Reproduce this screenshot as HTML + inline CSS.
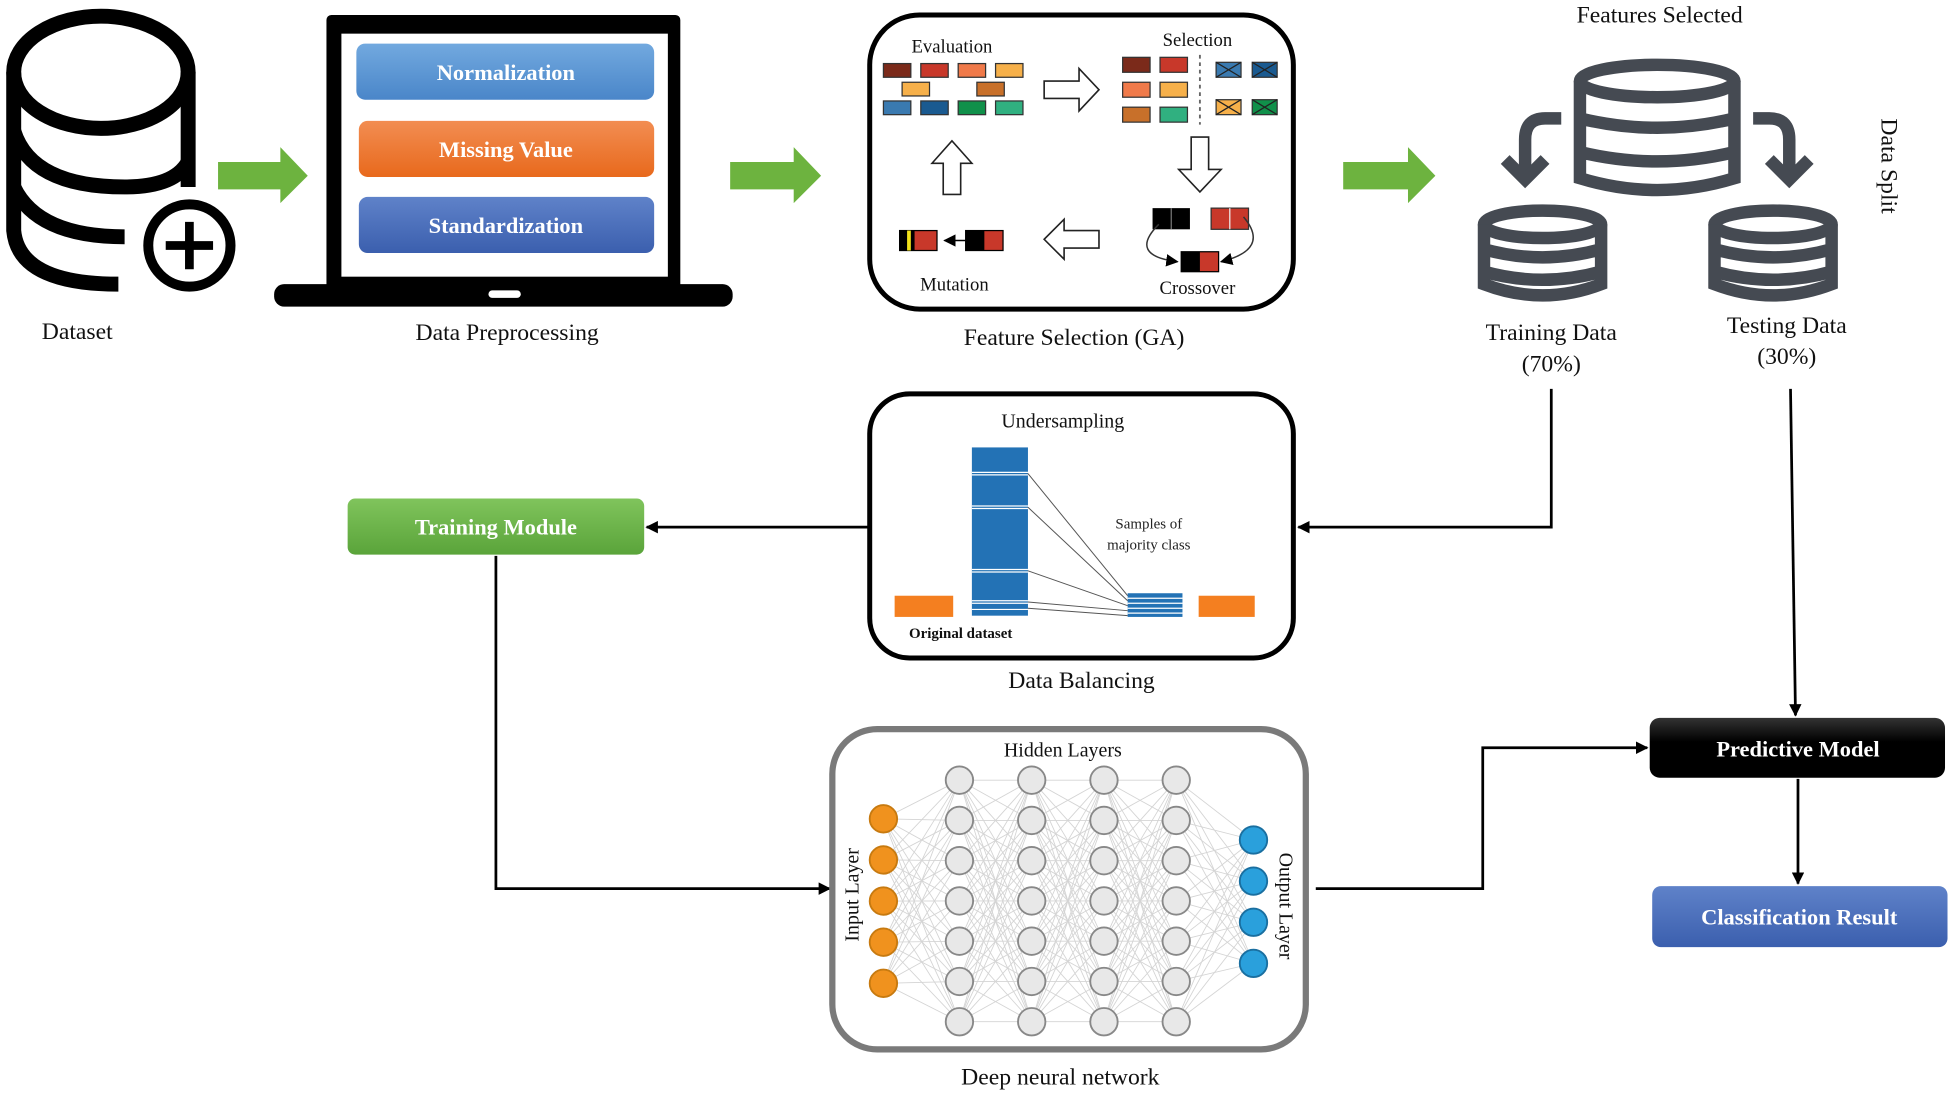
<!DOCTYPE html>
<html><head><meta charset="utf-8"><style>
html,body{margin:0;padding:0;background:#fff;}
svg{display:block;}
text{font-family:"Liberation Serif",serif;}
.lbl{font-size:19px;fill:#111;}
.bt{font-size:18px;font-weight:bold;fill:#fff;}
</style></head><body>
<svg id="s" width="1950" height="1093" viewBox="0 0 1565 877" preserveAspectRatio="none" xmlns="http://www.w3.org/2000/svg">
<defs>
<linearGradient id="gb" x1="0" y1="0" x2="0" y2="1"><stop offset="0" stop-color="#72a9df"/><stop offset="1" stop-color="#4a86c9"/></linearGradient>
<linearGradient id="go" x1="0" y1="0" x2="0" y2="1"><stop offset="0" stop-color="#f28d52"/><stop offset="1" stop-color="#e8691c"/></linearGradient>
<linearGradient id="gs" x1="0" y1="0" x2="0" y2="1"><stop offset="0" stop-color="#5f82c9"/><stop offset="1" stop-color="#3b5fae"/></linearGradient>
<linearGradient id="gg" x1="0" y1="0" x2="0" y2="1"><stop offset="0" stop-color="#80c45c"/><stop offset="1" stop-color="#5aa43a"/></linearGradient>
<linearGradient id="gk" x1="0" y1="0" x2="0" y2="1"><stop offset="0" stop-color="#333"/><stop offset="0.4" stop-color="#000"/></linearGradient>
<marker id="ar" markerWidth="10" markerHeight="10" refX="9" refY="5" orient="auto" markerUnits="userSpaceOnUse"><path d="M0,0 L10,5 L0,10 z" fill="#000"/></marker>
</defs>

<!-- Dataset icon -->
<g fill="none" stroke="#000" stroke-width="12">
<ellipse cx="81" cy="58" rx="70" ry="45"/>
<path d="M11,58 V185 Q15,228 95,228"/>
<path d="M151,58 V150"/>
<path d="M11,105 Q25,150 100,150 Q140,150 151,130"/>
<path d="M11,150 Q30,190 100,190"/>
</g>
<circle cx="152" cy="197" r="33" fill="#fff" stroke="#000" stroke-width="8"/>
<path d="M152,178 V216 M133,197 H171" stroke="#000" stroke-width="7"/>
<text x="62" y="272" class="lbl" text-anchor="middle">Dataset</text>

<!-- green arrows -->
<g fill="#6db33f">
<path d="M175,130 H225 V118 L247,141 L225,163 V152 H175 z"/>
<path d="M586,130 H637 V118 L659,141 L637,163 V152 H586 z"/>
<path d="M1078,130 H1130 V118 L1152,141 L1130,163 V152 H1078 z"/>
</g>

<!-- laptop -->
<rect x="262" y="12" width="284" height="220" rx="4" fill="#000"/>
<rect x="274" y="27" width="262" height="195" fill="#fff"/>
<rect x="220" y="228" width="368" height="18" rx="8" fill="#000"/>
<rect x="392" y="233" width="26" height="6" rx="3" fill="#fff"/>
<rect x="286" y="35" width="239" height="45" rx="7" fill="url(#gb)"/>
<rect x="288" y="97" width="237" height="45" rx="7" fill="url(#go)"/>
<rect x="288" y="158" width="237" height="45" rx="7" fill="url(#gs)"/>
<text x="406" y="64" class="bt" text-anchor="middle">Normalization</text>
<text x="406" y="126" class="bt" text-anchor="middle">Missing Value</text>
<text x="406" y="187" class="bt" text-anchor="middle">Standardization</text>
<text x="407" y="273" class="lbl" text-anchor="middle">Data Preprocessing</text>

<!-- Feature selection box -->
<rect x="698" y="12" width="340" height="236" rx="40" fill="#fff" stroke="#000" stroke-width="4"/>
<text x="764" y="42" font-size="15" text-anchor="middle" fill="#111">Evaluation</text>
<text x="961" y="37" font-size="15" text-anchor="middle" fill="#111">Selection</text>
<text x="766" y="233" font-size="15" text-anchor="middle" fill="#111">Mutation</text>
<text x="961" y="236" font-size="15" text-anchor="middle" fill="#111">Crossover</text>
<g stroke="#333" stroke-width="1">
<rect x="709" y="51" width="22" height="11" fill="#7b2a1a"/><rect x="739" y="51" width="22" height="11" fill="#c8382a"/><rect x="769" y="51" width="22" height="11" fill="#f07a4a"/><rect x="799" y="51" width="22" height="11" fill="#f6b04a"/>
<rect x="724" y="66" width="22" height="11" fill="#f6b04a"/><rect x="784" y="66" width="22" height="11" fill="#c8702a"/>
<rect x="709" y="81" width="22" height="11" fill="#3a7ab0"/><rect x="739" y="81" width="22" height="11" fill="#1a5a90"/><rect x="769" y="81" width="22" height="11" fill="#10904a"/><rect x="799" y="81" width="22" height="11" fill="#30b080"/>
<rect x="901" y="46" width="22" height="12" fill="#7b2a1a"/><rect x="931" y="46" width="22" height="12" fill="#c8382a"/>
<rect x="901" y="66" width="22" height="12" fill="#f07a4a"/><rect x="931" y="66" width="22" height="12" fill="#f6b04a"/>
<rect x="901" y="86" width="22" height="12" fill="#c8702a"/><rect x="931" y="86" width="22" height="12" fill="#30b080"/>
<rect x="976" y="50" width="20" height="12" fill="#3a7ab0"/><rect x="1005" y="50" width="20" height="12" fill="#1a5a90"/>
<rect x="976" y="80" width="20" height="12" fill="#f6b04a"/><rect x="1005" y="80" width="20" height="12" fill="#10904a"/>
<path d="M976,50 L996,62 M996,50 L976,62 M1005,50 L1025,62 M1025,50 L1005,62 M976,80 L996,92 M996,80 L976,92 M1005,80 L1025,92 M1025,80 L1005,92" stroke="#222"/>
</g>
<path d="M963,44 V100" stroke="#666" stroke-width="1.5" stroke-dasharray="3,3"/>
<g fill="#fff" stroke="#222" stroke-width="1.3">
<path d="M838,65 H866 V55 L882,72 L866,89 V79 H838 z"/>
<path d="M956,110 H970 V136 H980 L963,154 L946,136 H956 z"/>
<path d="M757,156 H771 V131 H780 L764,113 L748,131 H757 z"/>
<path d="M882,185 H854 V176 L838,192 L854,208 V199 H882 z"/>
</g>
<rect x="925" y="167" width="30" height="17" fill="#000"/><line x1="940" y1="167" x2="940" y2="184" stroke="#777"/>
<rect x="972" y="167" width="30" height="17" fill="#c8382a" stroke="#333"/><line x1="987" y1="167" x2="987" y2="184" stroke="#eee"/>
<rect x="948" y="202" width="30" height="16" fill="#c8382a" stroke="#000"/><rect x="948" y="202" width="15" height="16" fill="#000"/>
<path d="M930,180 Q905,205 945,210" fill="none" stroke="#333" stroke-width="1.2" marker-end="url(#ar)"/>
<path d="M998,174 Q1020,200 980,210" fill="none" stroke="#333" stroke-width="1.2" marker-end="url(#ar)"/>
<rect x="722" y="185" width="30" height="16" fill="#c8382a" stroke="#000"/><rect x="722" y="185" width="12" height="16" fill="#000"/><rect x="728" y="185" width="3" height="16" fill="#f2e21a"/>
<rect x="775" y="185" width="30" height="16" fill="#c8382a" stroke="#000"/><rect x="775" y="185" width="15" height="16" fill="#000"/>
<path d="M775,193 H758" stroke="#000" stroke-width="1.2" marker-end="url(#ar)"/>
<text x="862" y="277" class="lbl" text-anchor="middle">Feature Selection (GA)</text>

<!-- Data split -->
<text x="1332" y="18" class="lbl" text-anchor="middle">Features Selected</text>
<g fill="none" stroke="#454a52" stroke-width="10">
<ellipse cx="1330" cy="65" rx="62" ry="13"/>
<path d="M1268,65 V143 Q1330,162 1392,143 V65 M1268,95 Q1330,110 1392,95 M1268,122 Q1330,137 1392,122"/>
<ellipse cx="1238" cy="180" rx="47" ry="11"/>
<path d="M1191,180 V228 Q1238,246 1285,228 V180 M1191,200 Q1238,213 1285,200 M1191,218 Q1238,231 1285,218"/>
<ellipse cx="1423" cy="180" rx="47" ry="11"/>
<path d="M1376,180 V228 Q1423,246 1470,228 V180 M1376,200 Q1423,213 1470,200 M1376,218 Q1423,231 1470,218"/>
<path d="M1253,95 H1240 Q1224,95 1224,112 V140"/>
<path d="M1208,128 L1224,144 L1240,128"/>
<path d="M1407,95 H1420 Q1436,95 1436,112 V140"/>
<path d="M1420,128 L1436,144 L1452,128"/>
</g>
<text x="0" y="0" class="lbl" transform="translate(1510,95) rotate(90)">Data Split</text>
<text x="1245" y="273" class="lbl" text-anchor="middle">Training Data</text>
<text x="1245" y="298" class="lbl" text-anchor="middle">(70%)</text>
<text x="1434" y="267" class="lbl" text-anchor="middle">Testing Data</text>
<text x="1434" y="292" class="lbl" text-anchor="middle">(30%)</text>

<!-- connectors -->
<g fill="none" stroke="#000" stroke-width="2.2">
<path d="M1245,312 V423 H1042" marker-end="url(#ar)"/>
<path d="M1437,312 L1441,574" marker-end="url(#ar)"/>
<path d="M698,423 H519" marker-end="url(#ar)"/>
<path d="M398,446 V713 H666" marker-end="url(#ar)"/>
<path d="M1056,713 H1190 V600 H1322" marker-end="url(#ar)"/>
<path d="M1443,625 V709" marker-end="url(#ar)"/>
</g>

<!-- Data balancing -->
<rect x="698" y="316" width="340" height="212" rx="32" fill="#fff" stroke="#000" stroke-width="4"/>
<text x="853" y="343" font-size="16" text-anchor="middle" fill="#111">Undersampling</text>
<rect x="780" y="359" width="45" height="135" fill="#2372b5"/>
<g stroke="#fff" stroke-width="1"><line x1="780" y1="379" x2="825" y2="379"/><line x1="780" y1="381" x2="825" y2="381"/><line x1="780" y1="406" x2="825" y2="406"/><line x1="780" y1="408" x2="825" y2="408"/><line x1="780" y1="457" x2="825" y2="457"/><line x1="780" y1="459" x2="825" y2="459"/><line x1="780" y1="482" x2="825" y2="482"/><line x1="780" y1="484" x2="825" y2="484"/><line x1="780" y1="489" x2="825" y2="489"/></g>
<rect x="905" y="476" width="44" height="19" fill="#2372b5"/>
<g stroke="#fff" stroke-width="1"><line x1="905" y1="480" x2="949" y2="480"/><line x1="905" y1="484" x2="949" y2="484"/><line x1="905" y1="488" x2="949" y2="488"/><line x1="905" y1="492" x2="949" y2="492"/></g>
<g stroke="#555" stroke-width="0.8"><line x1="825" y1="380" x2="905" y2="478"/><line x1="825" y1="407" x2="905" y2="482"/><line x1="825" y1="458" x2="905" y2="486"/><line x1="825" y1="483" x2="905" y2="490"/><line x1="825" y1="488" x2="905" y2="494"/></g>
<rect x="718" y="478" width="47" height="17" fill="#f47f20"/>
<rect x="962" y="478" width="45" height="17" fill="#f47f20"/>
<text x="922" y="424" font-family="Liberation Sans,sans-serif" font-size="12" text-anchor="middle" fill="#222">Samples of</text>
<text x="922" y="441" font-family="Liberation Sans,sans-serif" font-size="12" text-anchor="middle" fill="#222">majority class</text>
<text x="771" y="512" font-family="Liberation Sans,sans-serif" font-size="12" font-weight="bold" text-anchor="middle" fill="#111">Original dataset</text>
<text x="868" y="552" class="lbl" text-anchor="middle">Data Balancing</text>

<!-- Training module -->
<rect x="279" y="400" width="238" height="45" rx="6" fill="url(#gg)"/>
<text x="398" y="429" class="bt" text-anchor="middle">Training Module</text>

<!-- DNN -->
<rect x="668" y="585" width="380" height="257" rx="36" fill="#fff" stroke="#7a7a7a" stroke-width="5"/>
<g id="nn"></g>
<text x="853" y="607" font-size="16" text-anchor="middle" fill="#111">Hidden Layers</text>
<text x="0" y="0" font-size="16" text-anchor="middle" fill="#111" transform="translate(689,718) rotate(-90)">Input Layer</text>
<text x="0" y="0" font-size="16" text-anchor="middle" fill="#111" transform="translate(1027,727) rotate(90)">Output Layer</text>
<text x="851" y="870" class="lbl" text-anchor="middle">Deep neural network</text>

<!-- Predictive / classification -->
<rect x="1324" y="576" width="237" height="48" rx="8" fill="url(#gk)"/>
<text x="1443" y="607" class="bt" text-anchor="middle">Predictive Model</text>
<rect x="1326" y="711" width="237" height="49" rx="7" fill="url(#gs)"/>
<text x="1444" y="742" class="bt" text-anchor="middle">Classification Result</text>
</svg>
<script>
(function(){
var ns="http://www.w3.org/2000/svg",g=document.getElementById("nn");
var L=[];
L.push({x:709,ys:[657,690,723,756,789],f:"#f0921e",s:"#c77a10"});
[770,828,886,944].forEach(function(x){var ys=[];for(var i=0;i<7;i++)ys.push(626+i*32.3);L.push({x:x,ys:ys,f:"#e8e8e8",s:"#888"});});
L.push({x:1006,ys:[674,707,740,773],f:"#2aa0dc",s:"#1a6fa0"});
for(var k=0;k<L.length-1;k++){L[k].ys.forEach(function(a){L[k+1].ys.forEach(function(b){var l=document.createElementNS(ns,"line");l.setAttribute("x1",L[k].x);l.setAttribute("y1",a);l.setAttribute("x2",L[k+1].x);l.setAttribute("y2",b);l.setAttribute("stroke","#d4d4d4");l.setAttribute("stroke-width","0.7");g.appendChild(l);});});}
L.forEach(function(c){c.ys.forEach(function(y){var e=document.createElementNS(ns,"circle");e.setAttribute("cx",c.x);e.setAttribute("cy",y);e.setAttribute("r",11);e.setAttribute("fill",c.f);e.setAttribute("stroke",c.s);e.setAttribute("stroke-width","1.5");g.appendChild(e);});});
})();
</script>
</body></html>
